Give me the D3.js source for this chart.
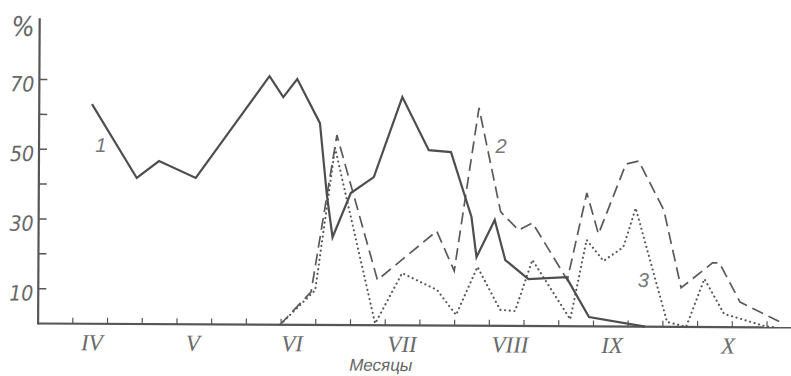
<!DOCTYPE html>
<html>
<head>
<meta charset="utf-8">
<script src="https://cdn.jsdelivr.net/npm/d3@7"></script>
<style>
  html, body { margin: 0; padding: 0; background: #fff; }
  svg { display: block; }
</style>
</head>
<body>
<svg id="chart" width="791" height="376"></svg>
<script>
// ---- data (x in ten-day periods from 1 April, y in %) ----
const months = ["IV", "V", "VI", "VII", "VIII", "IX", "X"];
const monthPos = [1.55, 4.46, 7.32, 10.49, 13.6, 16.54, 19.88];
const decadeTicks = d3.range(1, 22);
const yTicks = [10, 20, 30, 40, 50, 60, 70];
const yTickLabels = [10, 30, 50, 70];

const series1X = [1.52, 2.82, 3.46, 4.52, 6.63, 7.03, 7.43, 8.09, 8.30, 8.47, 8.99, 9.65, 10.46, 11.23, 11.87, 12.47, 12.62, 13.14, 13.45, 14.12, 15.21, 15.87, 17.49];
const series1Y = [63.0, 41.9, 46.8, 42.0, 71.3, 65.3, 70.5, 57.9, 37.3, 25.2, 37.9, 42.5, 65.5, 50.3, 49.8, 31.2, 19.7, 30.4, 18.9, 13.5, 14.1, 2.7, 0];

const series2X = [6.97, 7.86, 8.58, 9.77, 11.47, 11.98, 12.67, 13.31, 13.83, 14.23, 15.24, 15.79, 16.13, 16.91, 17.28, 18.01, 18.52, 19.42, 19.62, 20.22, 21.43];
const series2Y = [0, 9.5, 54.5, 13.0, 27.1, 15.7, 62.5, 32.7, 27.5, 29.6, 13.3, 38.3, 26.5, 46.6, 47.5, 33.5, 11.2, 18.4, 18.4, 7.2, 1.3];

const series3X = [6.97, 7.98, 8.53, 9.71, 10.48, 11.49, 12.04, 12.65, 13.31, 13.74, 14.23, 15.33, 15.79, 16.28, 16.85, 17.2, 18.12, 18.67, 19.19, 19.76, 20.91, 21.23];
const series3Y = [0, 10.0, 50.8, 0.5, 15.0, 10.2, 3.1, 16.9, 4.6, 4.3, 19.0, 2.0, 24.8, 18.8, 22.8, 34.0, 1.4, 0, 13.8, 3.8, 0.4, 0];

const seriesLabels = ["1", "2", "3"];
const seriesLabelX = [1.78, 13.31, 17.43];
const seriesLabelY = [51.3, 51.6, 13.4];

const yUnit = "%";
const xTitle = "Месяцы";

// ---- drawing ----
const svg = d3.select("#chart");
const x = d3.scaleLinear().domain([0, 21]).range([38.1, 767]);
const y = d3.scaleLinear().domain([0, 70]).range([323.5, 79.5]);

const ink = "#565656";
const g = svg.append("g").attr("transform", `rotate(0.3, ${x(0)}, ${y(0)})`);

// axes
g.append("line").attr("x1", x(0)).attr("x2", x(21.75)).attr("y1", y(0)).attr("y2", y(0))
  .attr("stroke", ink).attr("stroke-width", 2.2);
g.append("line").attr("x1", x(0)).attr("x2", x(0)).attr("y1", y(0) + 1).attr("y2", y(87.6))
  .attr("stroke", ink).attr("stroke-width", 2.2);

g.selectAll(".xt").data(decadeTicks).join("line")
  .attr("x1", d => x(d)).attr("x2", d => x(d))
  .attr("y1", y(0)).attr("y2", y(0) - 6)
  .attr("stroke", ink).attr("stroke-width", 1.2);

g.selectAll(".yt").data(yTicks).join("line")
  .attr("x1", x(0)).attr("x2", x(0) + 8)
  .attr("y1", d => y(d)).attr("y2", d => y(d))
  .attr("stroke", ink).attr("stroke-width", 1.5);

g.selectAll(".yl").data(yTickLabels).join("text")
  .attr("x", x(0) - 5).attr("y", d => y(d) + 12)
  .attr("text-anchor", "end")
  .attr("font-family", "'Liberation Sans Narrow', 'DejaVu Sans Condensed', sans-serif")
  .attr("font-style", "italic").attr("font-size", 21).attr("fill", "#666")
  .text(d => d);

g.append("text").attr("x", x(0) - 5).attr("y", 36).attr("text-anchor", "end")
  .attr("font-family", "'Liberation Sans Narrow', 'DejaVu Sans Condensed', sans-serif")
  .attr("font-style", "italic").attr("font-size", 27).attr("fill", "#666")
  .text(yUnit);

g.selectAll(".ml").data(months).join("text")
  .attr("x", (d, i) => x(monthPos[i])).attr("y", 350)
  .attr("text-anchor", "middle")
  .attr("font-family", "'Liberation Serif', serif")
  .attr("font-style", "italic").attr("font-size", 23).attr("fill", "#6a6a6a")
  .text(d => d);

g.append("text").attr("x", 381).attr("y", 369).attr("text-anchor", "middle")
  .attr("font-family", "'Liberation Sans', sans-serif")
  .attr("font-style", "italic").attr("font-size", 17).attr("fill", "#666")
  .text(xTitle);

// lines
const line = d3.line().x(d => x(d[0])).y(d => y(d[1]));
const s1 = series1X.map((v, i) => [v, series1Y[i]]);
const s2 = series2X.map((v, i) => [v, series2Y[i]]);
const s3 = series3X.map((v, i) => [v, series3Y[i]]);

g.append("path").attr("d", line(s3)).attr("fill", "none")
  .attr("stroke", "#555").attr("stroke-width", 2.1)
  .attr("stroke-dasharray", "0.1,4.6").attr("stroke-linecap", "round");
g.append("path").attr("d", line(s2)).attr("fill", "none")
  .attr("stroke", "#5a5a5a").attr("stroke-width", 1.7)
  .attr("stroke-dasharray", "12,6");
g.append("path").attr("d", line(s1)).attr("fill", "none")
  .attr("stroke", "#4e4e4e").attr("stroke-width", 2.2).attr("stroke-linejoin", "miter");

g.selectAll(".sl").data(seriesLabels).join("text")
  .attr("x", (d, i) => x(seriesLabelX[i])).attr("y", (d, i) => y(seriesLabelY[i]))
  .attr("text-anchor", "middle").attr("dominant-baseline", "central")
  .attr("font-family", "'Liberation Sans', sans-serif")
  .attr("font-style", "italic").attr("font-size", 20).attr("fill", "#777")
  .text(d => d);
</script>
</body>
</html>
